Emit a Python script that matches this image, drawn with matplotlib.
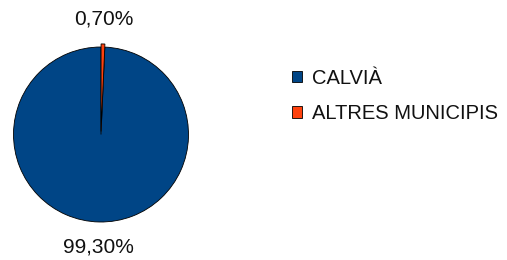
import matplotlib
matplotlib.use("Agg")
import matplotlib.pyplot as plt

plt.rcParams['font.family'] = ['Liberation Sans', 'DejaVu Sans']

categories = ["CALVIÀ", "ALTRES MUNICIPIS"]
values = [99.30, 0.70]
colors = ["#004586", "#ff420e"]

W, H = 507, 260
fig = plt.figure(figsize=(W / 100, H / 100), dpi=100)
cx, cy, r = 101, 134.5, 87.5
ax = fig.add_axes([(cx - r) / W, (H - cy - r) / H, 2 * r / W, 2 * r / H])

labels = [f"{v:.2f}".replace('.', ',') + '%' for v in values]
wedges, texts = ax.pie(values, colors=colors, startangle=90, counterclock=True,
                       explode=[0, 0.035], labels=labels, labeldistance=1.29,
                       wedgeprops=dict(edgecolor='black', linewidth=0.6),
                       textprops=dict(fontsize=15, ha='center', va='center', color='#111111'))
for w in wedges:
    w.set_clip_on(False)
ax.set_xlim(-1, 1)
ax.set_ylim(-1, 1)
ax.set_aspect('equal')
ax.axis('off')

leg = ax.legend(wedges, categories, loc='center left',
                bbox_to_anchor=(292 / W, (H - 96) / H), bbox_transform=fig.transFigure,
                frameon=False, fontsize=14.5, handlelength=0.5, handleheight=0.5,
                handletextpad=0.5, labelspacing=0.82, borderpad=0, borderaxespad=0)
for t in leg.get_texts():
    t.set_color('#111111')

fig.savefig("out.png", dpi=100)
